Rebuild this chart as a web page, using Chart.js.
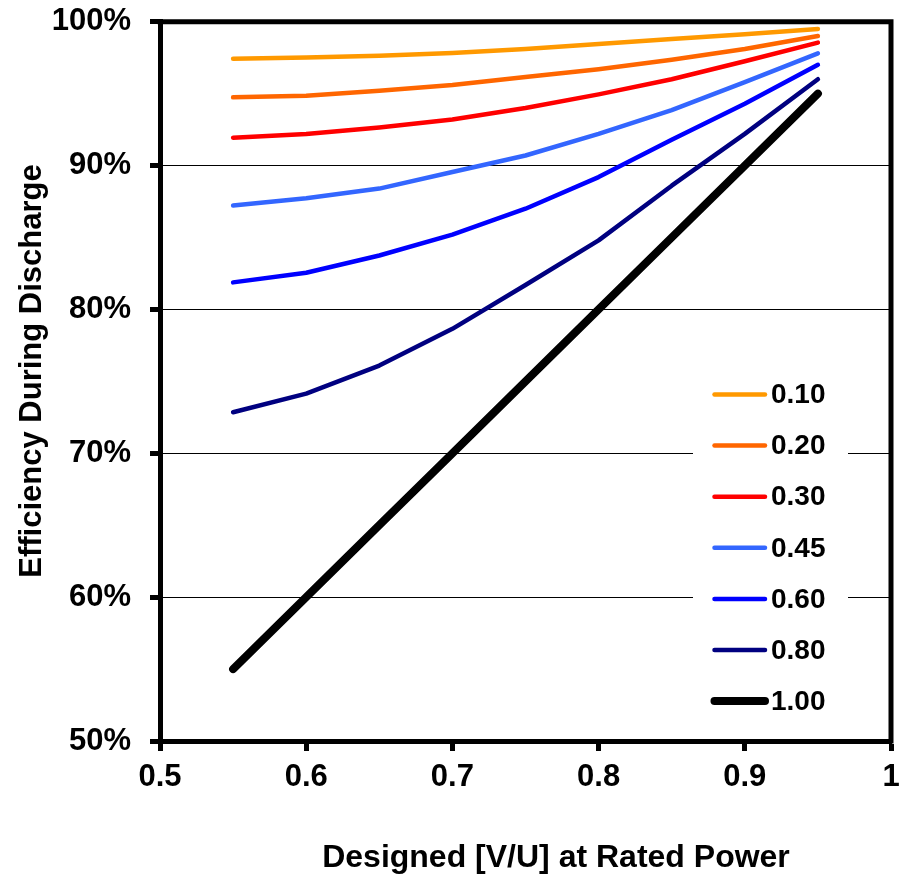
<!DOCTYPE html>
<html><head><meta charset="utf-8">
<script src="https://cdn.jsdelivr.net/npm/chart.js@4.4.1/dist/chart.umd.min.js"></script>
<style>html,body{margin:0;padding:0;background:#fff}#wrap{width:899px;height:880px}</style>
</head><body><div id="wrap"><canvas id="c" width="899" height="880"></canvas></div>
<script>
// Designed [V/U] at rated power (x values)
const xValues = [0.55, 0.60, 0.65, 0.70, 0.75, 0.80, 0.85, 0.90, 0.95];
// Series labels (legend)
const seriesLabels = ['0.10', '0.20', '0.30', '0.45', '0.60', '0.80', '1.00'];
// Efficiency during discharge (%) per series
const eff010 = [97.42, 97.52, 97.63, 97.82, 98.10, 98.45, 98.80, 99.12, 99.50];
const eff020 = [94.74, 94.86, 95.20, 95.60, 96.15, 96.70, 97.35, 98.10, 99.00];
const eff030 = [91.94, 92.20, 92.65, 93.20, 94.00, 94.95, 96.00, 97.25, 98.55];
const eff045 = [87.22, 87.73, 88.40, 89.55, 90.70, 92.20, 93.85, 95.80, 97.80];
const eff060 = [81.88, 82.55, 83.75, 85.20, 87.00, 89.20, 91.80, 94.30, 97.00];
const eff080 = [72.85, 74.15, 76.10, 78.65, 81.70, 84.80, 88.60, 92.20, 96.00];
const eff100 = [55.0, 60.0, 65.0, 70.0, 75.0, 80.0, 85.0, 90.0, 95.0];
const seriesValues = [eff010, eff020, eff030, eff045, eff060, eff080, eff100];
const seriesColors = ['#FF9900', '#FF6600', '#FF0000', '#3366FF', '#0000FF', '#000080', '#000000'];
const seriesWidths = [4.5, 4.5, 4.5, 4.5, 4.5, 4.5, 8];
// Axis ticks and titles
const yMin = 50, yMax = 100, yStep = 10;
const xMin = 0.5, xMax = 1.0, xStep = 0.1;
const xTitle = 'Designed [V/U] at Rated Power';
const yTitle = 'Efficiency During Discharge';

const FONT = 'Arial, "Liberation Sans", sans-serif';

const datasets = seriesLabels.map((lab, i) => ({
  label: lab,
  data: xValues.map((x, j) => ({x: x, y: seriesValues[i][j]})),
  borderColor: seriesColors[i],
  backgroundColor: seriesColors[i],
  borderWidth: seriesWidths[i],
  borderCapStyle: 'round',
  borderJoinStyle: 'round',
  pointRadius: 0,
  pointHoverRadius: 0,
  tension: 0,
  fill: false
}));

function zeroPad(s) {
  s.paddingTop = 0; s.paddingBottom = 0; s.paddingLeft = 0; s.paddingRight = 0;
}

const framePlugin = {
  id: 'frame',
  beforeDatasetsDraw(chart) {
    const {ctx, chartArea: a} = chart;
    ctx.save();
    ctx.strokeStyle = '#000';
    ctx.lineWidth = 5;
    ctx.lineCap = 'butt';
    ctx.beginPath();
    ctx.moveTo(a.left - 2.5, a.top);
    ctx.lineTo(a.right + 2.5, a.top);
    ctx.moveTo(a.right, a.top - 2.5);
    ctx.lineTo(a.right, a.bottom + 2.5);
    ctx.stroke();
    ctx.restore();
  }
};

const legendPlugin = {
  id: 'insideLegend',
  afterDatasetsDraw(chart) {
    const {ctx} = chart;
    ctx.save();
    ctx.fillStyle = '#fff';
    ctx.fillRect(693, 368, 155, 358);
    ctx.font = 'bold 28px ' + FONT;
    ctx.textBaseline = 'middle';
    ctx.textAlign = 'left';
    seriesLabels.forEach((lab, i) => {
      const y = 394.5 + i * 51.1;
      ctx.strokeStyle = seriesColors[i];
      ctx.lineWidth = seriesWidths[i];
      ctx.lineCap = 'round';
      ctx.beginPath();
      ctx.moveTo(714.5, y);
      ctx.lineTo(765, y);
      ctx.stroke();
      ctx.fillStyle = '#000';
      ctx.fillText(lab, 771, y + 1);
    });
    ctx.restore();
  }
};

const titlePlugin = {
  id: 'axisTitles',
  afterDraw(chart) {
    const {ctx} = chart;
    ctx.save();
    ctx.fillStyle = '#000';
    ctx.textAlign = 'center';
    ctx.textBaseline = 'alphabetic';
    ctx.font = 'bold 32px ' + FONT;
    ctx.fillText(xTitle, 556, 867);
    ctx.translate(40.5, 371);
    ctx.rotate(-Math.PI / 2);
    ctx.font = 'bold 31px ' + FONT;
    ctx.fillText(yTitle, 0, 0);
    ctx.restore();
  }
};

new Chart(document.getElementById('c'), {
  type: 'line',
  data: {datasets},
  options: {
    responsive: false,
    animation: false,
    events: [],
    layout: {padding: {top: 21.7, right: 8, left: 0, bottom: 0}},
    plugins: {legend: {display: false}, tooltip: {enabled: false}, title: {display: false}},
    scales: {
      x: {
        type: 'linear',
        min: xMin, max: xMax,
        afterFit(s) { s.height = 139; zeroPad(s); },
        ticks: {
          stepSize: xStep,
          color: '#000',
          padding: 8,
          maxRotation: 0,
          font: {family: FONT, size: 31, weight: 'bold'},
          callback: v => String(Number(v.toFixed(1)))
        },
        grid: {drawOnChartArea: false, drawTicks: true, tickLength: 10, tickWidth: 5, tickColor: '#000', color: '#000'},
        border: {display: true, color: '#000', width: 5}
      },
      y: {
        type: 'linear',
        min: yMin, max: yMax,
        afterFit(s) { s.width = 160; zeroPad(s); },
        ticks: {
          stepSize: yStep,
          color: '#000',
          padding: 19,
          font: {family: FONT, size: 31, weight: 'bold'},
          callback: v => v + '%'
        },
        grid: {color: '#000', lineWidth: 1, drawTicks: true, tickLength: 10, tickWidth: 5, tickColor: '#000'},
        border: {display: true, color: '#000', width: 5}
      }
    }
  },
  plugins: [framePlugin, legendPlugin, titlePlugin]
});
</script></body></html>
